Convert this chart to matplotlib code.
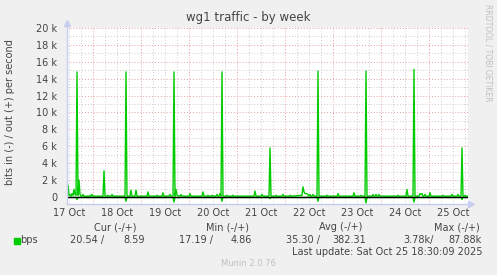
import numpy as np
import matplotlib
matplotlib.use("Agg")
import matplotlib.pyplot as plt

# out (+) traffic, hours since 17 Oct 00:00 / kbit/s
out_hours = [11.0, 11.5, 12.0, 12.5, 13.0, 13.5, 14.0, 14.5, 15.0, 15.5, 16.0, 16.5, 17.0, 17.5, 18.0,
             18.5, 19.0, 19.5, 22.0, 22.5, 23.0, 23.5, 24.0, 29.0, 29.5, 30.0,
             31.0, 31.5, 32.0, 33.0, 33.5, 34.0, 40.0, 40.5, 41.0, 42.5, 43.0, 43.5,
             45.0, 45.5, 46.0, 51.0, 51.5, 52.0, 55.5, 56.0, 56.5, 58.5, 59.0, 59.5,
             62.0, 62.5, 63.0, 64.0, 64.5, 65.0, 65.5, 66.0, 67.5, 68.0, 68.5,
             72.0, 72.5, 73.0, 78.5, 79.0, 79.5, 81.0, 81.5, 82.0, 83.0, 83.5, 84.0,
             85.5, 86.0, 86.5, 87.0, 87.5, 88.0, 88.5, 89.0, 90.5, 91.0, 91.5,
             93.5, 94.0, 94.5, 104.5, 105.0, 105.5, 108.0, 108.5, 109.0,
             112.0, 112.5, 113.0, 115.0, 115.5, 116.0, 118.5, 119.0, 119.5,
             122.0, 122.5, 123.0, 128.5, 129.0, 129.5, 130.0, 131.0, 132.0, 132.5, 133.0,
             133.5, 134.0, 134.5, 136.0, 136.5, 137.0, 140.5, 141.0, 141.5,
             146.0, 146.5, 147.0, 154.0, 154.5, 155.0, 157.5, 158.0, 158.5,
             160.0, 160.5, 161.0, 163.5, 164.0, 164.5, 165.0, 165.5, 166.0, 166.5, 167.0, 167.5,
             176.0, 176.5, 177.0, 180.5, 181.0, 181.5, 184.0, 184.5, 185.0,
             187.0, 187.5, 188.0, 188.5, 189.0, 189.5, 190.0, 190.5, 192.0, 192.5, 193.0,
             198.5, 199.0, 199.5, 203.0, 203.5, 204.0, 206.0, 206.5, 207.0,
             208.0, 208.5, 209.0, 209.5, 210.0, 210.5, 211.5]
out_kbits = [0.3, 1.4, 0.2, 0.3, 0.1, 0.4, 0.2, 0.9, 0.3, 0.2, 14.8, 0.2, 2.0, 0.3, 0.1,
             0.1, 0.3, 0.1, 0.1, 0.2, 0.1, 0.3, 0.1, 0.1, 3.1, 0.1,
             0.1, 0.2, 0.1, 0.1, 0.3, 0.1, 0.1, 14.8, 0.1, 0.1, 0.8, 0.1,
             0.1, 0.8, 0.1, 0.1, 0.6, 0.1, 0.1, 0.2, 0.1, 0.1, 0.5, 0.1,
             0.1, 0.3, 0.1, 0.1, 14.8, 0.1, 0.9, 0.2, 0.1, 0.3, 0.1,
             0.1, 0.4, 0.1, 0.1, 0.6, 0.1, 0.1, 0.2, 0.1, 0.1, 0.2, 0.1,
             0.1, 0.3, 0.1, 0.1, 0.4, 0.1, 14.8, 0.1, 0.1, 0.2, 0.1,
             0.1, 0.2, 0.1, 0.1, 0.7, 0.1, 0.1, 0.3, 0.1,
             0.1, 5.8, 0.1, 0.1, 0.2, 0.1, 0.1, 0.3, 0.1,
             0.1, 0.2, 0.1, 0.2, 1.2, 0.6, 0.4, 0.4, 0.1, 0.3, 0.1,
             0.1, 0.3, 0.1, 0.1, 14.9, 0.1, 0.1, 0.2, 0.1,
             0.1, 0.4, 0.1, 0.1, 0.5, 0.1, 0.1, 0.2, 0.1,
             0.1, 14.9, 0.1, 0.1, 0.3, 0.1, 0.1, 0.3, 0.1, 0.1, 0.3, 0.1,
             0.1, 0.2, 0.1, 0.1, 0.9, 0.1, 0.1, 15.1, 0.1,
             0.1, 0.4, 0.3, 0.4, 0.1, 0.1, 0.3, 0.1, 0.1, 0.5, 0.1,
             0.1, 0.2, 0.1, 0.1, 0.3, 0.1, 0.1, 0.3, 0.1,
             0.1, 5.8, 0.1, 0.1, 0.2, 0.1, 0.1]

# in (-) traffic, plotted below zero
in_hours = [11.0, 15.5, 16.0, 16.5, 40.0, 40.5, 41.0, 64.0, 64.5, 65.0, 88.0, 88.5, 89.0,
            112.0, 112.5, 113.0, 136.0, 136.5, 137.0, 160.0, 160.5, 161.0,
            184.0, 184.5, 185.0, 208.0, 208.5, 209.0, 211.5]
in_kbits = [0.05, 0.05, 0.3, 0.05, 0.05, 0.5, 0.05, 0.05, 0.6, 0.05, 0.05, 0.5, 0.05,
            0.05, 0.2, 0.05, 0.05, 0.5, 0.05, 0.05, 0.7, 0.05,
            0.05, 0.6, 0.05, 0.05, 0.3, 0.05, 0.05]

day_labels = ["17 Oct", "18 Oct", "19 Oct", "20 Oct", "21 Oct", "22 Oct", "23 Oct", "24 Oct", "25 Oct"]
y_ticks = [0, 2, 4, 6, 8, 10, 12, 14, 16, 18, 20]

legend_heads = ["Cur (-/+)", "Min (-/+)", "Avg (-/+)", "Max (-/+)"]
legend_in = ["20.54 /", "17.19 /", "35.30 /", "3.78k/"]
legend_out = ["8.59", "4.86", "382.31", "87.88k"]

W, H = 497, 275
GREEN = "#00cc00"
TXT = "#444444"

fig = plt.figure(figsize=(W / 100, H / 100), dpi=100)
fig.patch.set_facecolor("#f0f0f0")

x0, x1 = 11.0, 211.5
ax = fig.add_axes([67 / W, 1 - 204 / H, 401 / W, (204 - 28) / H])
ax.set_xlim(x0, x1)
ax.set_ylim(-0.83, 20)
ax.set_facecolor("white")
for s in ax.spines.values():
    s.set_visible(False)

# grid: minor grey, major light red
for h in np.arange(12, x1, 6):
    major = h % 24 == 0
    ax.axvline(h, color="#e8a0a0" if major else "#cccccc", lw=0.7,
               ls=(0, (1, 2)), zorder=1)
for v in np.arange(1, 21, 1):
    major = v % 2 == 0
    ax.axhline(v, color="#e8a0a0" if major else "#cccccc", lw=0.7,
               ls=(0, (1, 2)), zorder=1)

ax.plot(out_hours, out_kbits, color=GREEN, lw=1.0, zorder=3)
ax.plot(in_hours, [-v for v in in_kbits], color=GREEN, lw=1.0, zorder=3)
ax.axhline(0, color="black", lw=1.0, zorder=4)

# axes with arrows
axis_c = "#c8ccee"
ax.plot([x0, x0], [-0.83, 20.4], color=axis_c, lw=1, clip_on=False, zorder=5)
ax.plot([x0, x1 + 1], [-0.83, -0.83], color=axis_c, lw=1, clip_on=False, zorder=5)
ax.plot([x0], [20.6], marker="^", color=axis_c, ms=4, clip_on=False, zorder=5)
ax.plot([x1 + 1.5], [-0.83], marker=">", color=axis_c, ms=4, clip_on=False, zorder=5)

ax.set_xticks(np.arange(12, 12 + 24 * len(day_labels), 24))
ax.set_xticklabels(day_labels)
ax.set_yticks(y_ticks)
ax.set_yticklabels(["0"] + [f"{v} k" for v in y_ticks[1:]])
ax.tick_params(length=0, labelsize=7, colors=TXT)
ax.tick_params(axis="y", pad=7)
ax.tick_params(axis="x", pad=3)


def ftext(x, y, s, **kw):
    kw.setdefault("fontsize", 7)
    kw.setdefault("color", TXT)
    fig.text(x / W, 1 - y / H, s, **kw)


ftext(248, 18, "wg1 traffic - by week", fontsize=8.5, ha="center", va="center")
ftext(10, 112, "bits in (-) / out (+) per second", rotation=90, ha="center", va="center")
ftext(488, 4, "RRDTOOL / TOBI OETIKER", fontsize=5.5, color="#c0c0c0",
      rotation=270, ha="center", va="top")

head_x = [115, 228, 341, 457]
in_x = [104, 213, 320, 434]
out_x = [145, 252, 366, 482]
for i in range(4):
    ftext(head_x[i], 227, legend_heads[i], ha="center", va="center")
    ftext(in_x[i], 240, legend_in[i], ha="right", va="center")
    ftext(out_x[i], 240, legend_out[i], ha="right", va="center")

fig.patches.append(plt.Rectangle((14 / W, 1 - 243.5 / H), 6 / W, 6 / H,
                                 transform=fig.transFigure, color=GREEN))
ftext(20.5, 240, "bps", ha="left", va="center")
ftext(483, 252, "Last update: Sat Oct 25 18:30:09 2025", ha="right", va="center")
ftext(248, 264, "Munin 2.0.76", fontsize=6, color="#c0c0c0", ha="center", va="center")

fig.savefig("out.png", dpi=100, facecolor=fig.get_facecolor())
